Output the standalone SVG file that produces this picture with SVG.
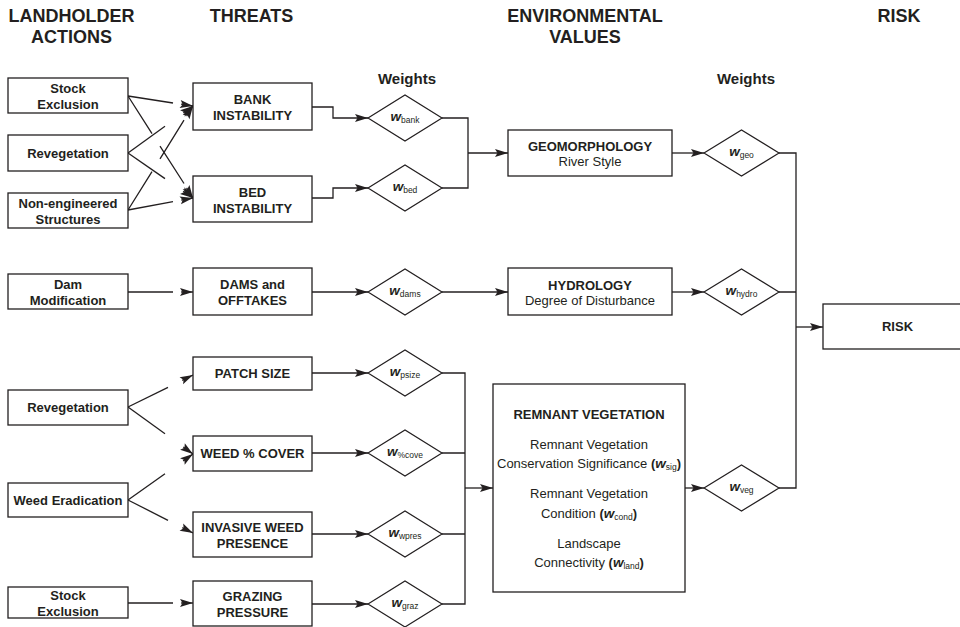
<svg xmlns="http://www.w3.org/2000/svg" width="960" height="627" viewBox="0 0 960 627">
<style>
text{font-family:"Liberation Sans",Arial,Helvetica,sans-serif;fill:#231f20;text-anchor:middle}
.h{font-size:18px;font-weight:bold}
.wt{font-size:15px;font-weight:bold}
.lb{font-size:13px;font-weight:bold}
.rg{font-size:13px}
.wi{font-weight:bold;font-style:italic;font-size:13.5px}
.sub{font-size:8.5px;font-weight:normal;font-style:normal}
.bx{fill:#fff;stroke:#231f20;stroke-width:1.3}
.dm{fill:#fff;stroke:#231f20;stroke-width:1.2}
.cn{fill:none;stroke:#231f20;stroke-width:1.3}
.ar{marker-end:url(#arr)}
</style>
<defs>
<marker id="arr" markerUnits="userSpaceOnUse" viewBox="-14 -5 15 10" refX="0" refY="0" markerWidth="15" markerHeight="10" orient="auto">
<path d="M0,0 L-13,-4 L-10.5,0 L-13,4 z" fill="#231f20"/>
</marker>
</defs>
<rect width="960" height="627" fill="#fff"/>

<g id="headers">
<text class="h" x="71.5" y="22">LANDHOLDER</text>
<text class="h" x="71.5" y="43">ACTIONS</text>
<text class="h" x="251.5" y="22">THREATS</text>
<text class="h" x="585" y="22">ENVIRONMENTAL</text>
<text class="h" x="585" y="43">VALUES</text>
<text class="h" x="899" y="22">RISK</text>
<text class="wt" x="407" y="84">Weights</text>
<text class="wt" x="746" y="84">Weights</text>
</g>

<g id="connectors">
<path class="cn" d="M128,96 L173,103"/>
<path class="cn ar" d="M181.1,104.2 L193,106"/>
<path class="cn" d="M128,96 L152,133.7 M160,146.2 L184,183.5"/>
<path class="cn ar" d="M186.6,187.9 L193,198"/>
<path class="cn" d="M128,153 L165,126.2"/>
<path class="cn ar" d="M183.3,113 L193,106"/>
<path class="cn" d="M128,153 L165,178.6"/>
<path class="cn ar" d="M183.1,191.2 L193,198"/>
<path class="cn" d="M128,210 L152,171.6 M160,158.8 L184,120.2"/>
<path class="cn ar" d="M186.6,116.2 L193,106"/>
<path class="cn" d="M128,210 L173,201.7"/>
<path class="cn ar" d="M181.2,200.2 L193,198"/>
<path class="cn" d="M128,292 L173,292"/>
<path class="cn ar" d="M181,292 L193,292"/>
<path class="cn" d="M128,407 L168,387.3"/>
<path class="cn ar" d="M182.2,380.3 L193,375"/>
<path class="cn" d="M128,407 L165,433.8"/>
<path class="cn ar" d="M183.3,447 L193,454"/>
<path class="cn" d="M128,500 L165,473.8"/>
<path class="cn ar" d="M183.2,460.9 L193,454"/>
<path class="cn" d="M128,500 L168,520.3"/>
<path class="cn ar" d="M182.3,527.6 L193,533"/>
<path class="cn" d="M128,603 L173,603"/>
<path class="cn ar" d="M181,603 L193,603"/>
<path class="cn ar" d="M312,107 L333,107 L333,118 L368,118"/>
<path class="cn ar" d="M312,198 L333,198 L333,188 L368,188"/>
<path class="cn ar" d="M312,292 L368,292"/>
<path class="cn ar" d="M312,373 L368,373"/>
<path class="cn ar" d="M312,453 L368,453"/>
<path class="cn ar" d="M312,534 L368,534"/>
<path class="cn ar" d="M312,604 L368,604"/>
<path class="cn" d="M442,118 L468,118 L468,188 L442,188"/>
<path class="cn ar" d="M468,153 L508,153"/>
<path class="cn ar" d="M442,292 L508,292"/>
<path class="cn" d="M442,373 L465,373 L465,604 L442,604 M442,453 L465,453 M442,534 L465,534"/>
<path class="cn ar" d="M465,488 L493,488"/>
<path class="cn ar" d="M672,153 L704,153"/>
<path class="cn ar" d="M672,292 L704,292"/>
<path class="cn ar" d="M685,488 L704,488"/>
<path class="cn" d="M779,153 L796,153 L796,488 L779,488 M779,292 L796,292"/>
<path class="cn ar" d="M796,327 L823,327"/>
</g>

<g id="act-stock1"><rect class="bx" x="8" y="78" width="120" height="35"/><text class="lb" x="68" y="93">Stock</text><text class="lb" x="68" y="109">Exclusion</text></g>
<g id="act-reveg1"><rect class="bx" x="8" y="135" width="120" height="36"/><text class="lb" x="68" y="157.5">Revegetation</text></g>
<g id="act-noneng"><rect class="bx" x="8" y="193" width="120" height="35"/><text class="lb" x="68" y="208">Non-engineered</text><text class="lb" x="68" y="224">Structures</text></g>
<g id="act-dam"><rect class="bx" x="8" y="274" width="120" height="35"/><text class="lb" x="68" y="289">Dam</text><text class="lb" x="68" y="305">Modification</text></g>
<g id="act-reveg2"><rect class="bx" x="8" y="390" width="120" height="35"/><text class="lb" x="68" y="412">Revegetation</text></g>
<g id="act-weed"><rect class="bx" x="8" y="483" width="120" height="34"/><text class="lb" x="68" y="504.5">Weed Eradication</text></g>
<g id="act-stock2"><rect class="bx" x="8" y="587" width="120" height="31"/><text class="lb" x="68" y="600">Stock</text><text class="lb" x="68" y="616">Exclusion</text></g>

<g id="thr-bank"><rect class="bx" x="193" y="83" width="119" height="47"/><text class="lb" x="252.5" y="104">BANK</text><text class="lb" x="252.5" y="120">INSTABILITY</text></g>
<g id="thr-bed"><rect class="bx" x="193" y="176" width="119" height="46"/><text class="lb" x="252.5" y="196.5">BED</text><text class="lb" x="252.5" y="212.5">INSTABILITY</text></g>
<g id="thr-dams"><rect class="bx" x="193" y="268" width="119" height="47"/><text class="lb" x="252.5" y="289">DAMS and</text><text class="lb" x="252.5" y="305">OFFTAKES</text></g>
<g id="thr-patch"><rect class="bx" x="193" y="357" width="119" height="33"/><text class="lb" x="252.5" y="378">PATCH SIZE</text></g>
<g id="thr-cover"><rect class="bx" x="193" y="436" width="119" height="35"/><text class="lb" x="252.5" y="458">WEED % COVER</text></g>
<g id="thr-invasive"><rect class="bx" x="193" y="512" width="119" height="45"/><text class="lb" x="252.5" y="532">INVASIVE WEED</text><text class="lb" x="252.5" y="548">PRESENCE</text></g>
<g id="thr-grazing"><rect class="bx" x="193" y="581" width="119" height="45"/><text class="lb" x="252.5" y="601">GRAZING</text><text class="lb" x="252.5" y="617">PRESSURE</text></g>

<g id="w-bank"><polygon class="dm" points="368,118 405,95 442,118 405,141"/><text x="405" y="121"><tspan class="wi">w</tspan><tspan class="sub" dy="2">bank</tspan></text></g>
<g id="w-bed"><polygon class="dm" points="368,188 405,165 442,188 405,211"/><text x="405" y="191"><tspan class="wi">w</tspan><tspan class="sub" dy="2">bed</tspan></text></g>
<g id="w-dams"><polygon class="dm" points="368,292 405,269 442,292 405,315"/><text x="405" y="295"><tspan class="wi">w</tspan><tspan class="sub" dy="2">dams</tspan></text></g>
<g id="w-psize"><polygon class="dm" points="368,373 405,350 442,373 405,396"/><text x="405" y="376"><tspan class="wi">w</tspan><tspan class="sub" dy="2">psize</tspan></text></g>
<g id="w-cove"><polygon class="dm" points="368,453 405,430 442,453 405,476"/><text x="405" y="456"><tspan class="wi">w</tspan><tspan class="sub" dy="2">%cove</tspan></text></g>
<g id="w-wpres"><polygon class="dm" points="368,534 405,511 442,534 405,557"/><text x="405" y="537"><tspan class="wi">w</tspan><tspan class="sub" dy="2">wpres</tspan></text></g>
<g id="w-graz"><polygon class="dm" points="368,604 405,581 442,604 405,627"/><text x="405" y="607"><tspan class="wi">w</tspan><tspan class="sub" dy="2">graz</tspan></text></g>

<g id="env-geo"><rect class="bx" x="508" y="130" width="164" height="46"/><text class="lb" x="590" y="151">GEOMORPHOLOGY</text><text class="rg" x="590" y="166">River Style</text></g>
<g id="env-hydro"><rect class="bx" x="508" y="268" width="164" height="47"/><text class="lb" x="590" y="289.5">HYDROLOGY</text><text class="rg" x="590" y="305">Degree of Disturbance</text></g>
<g id="env-veg"><rect class="bx" x="493" y="384" width="192" height="208"/>
<text class="lb" x="589" y="419">REMNANT VEGETATION</text>
<text class="rg" x="589" y="448.5">Remnant Vegetation</text>
<text class="rg" x="589" y="467.5">Conservation Significance <tspan font-weight="bold">(</tspan><tspan class="wi">w</tspan><tspan class="sub" dy="2">sig</tspan><tspan font-weight="bold" dy="-2">)</tspan></text>
<text class="rg" x="589" y="497.5">Remnant Vegetation</text>
<text class="rg" x="589" y="517.5">Condition <tspan font-weight="bold">(</tspan><tspan class="wi">w</tspan><tspan class="sub" dy="2">cond</tspan><tspan font-weight="bold" dy="-2">)</tspan></text>
<text class="rg" x="589" y="547.5">Landscape</text>
<text class="rg" x="589" y="566.5">Connectivity <tspan font-weight="bold">(</tspan><tspan class="wi">w</tspan><tspan class="sub" dy="2">land</tspan><tspan font-weight="bold" dy="-2">)</tspan></text>
</g>

<g id="w-geo"><polygon class="dm" points="704,153 741.5,130 779,153 741.5,176"/><text x="741.5" y="156"><tspan class="wi">w</tspan><tspan class="sub" dy="2">geo</tspan></text></g>
<g id="w-hydro"><polygon class="dm" points="704,292 741.5,269 779,292 741.5,315"/><text x="741.5" y="295"><tspan class="wi">w</tspan><tspan class="sub" dy="2">hydro</tspan></text></g>
<g id="w-veg"><polygon class="dm" points="704,488 741.5,465 779,488 741.5,511"/><text x="741.5" y="491"><tspan class="wi">w</tspan><tspan class="sub" dy="2">veg</tspan></text></g>

<g id="risk"><rect class="bx" x="823" y="304" width="150" height="45"/><text class="lb" x="897.5" y="331">RISK</text></g>
</svg>
